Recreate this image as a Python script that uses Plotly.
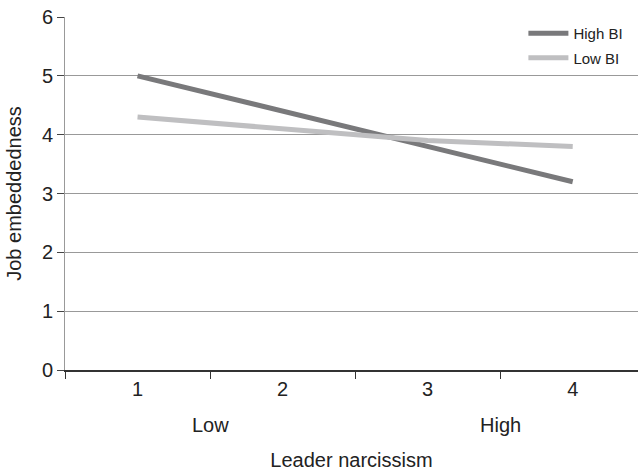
import plotly.graph_objects as go

categories = ["1", "2", "3", "4"]
high_bi = [5.0, 4.4, 3.8, 3.2]
low_bi = [4.3, 4.1, 3.9, 3.8]
y_ticks = [0, 1, 2, 3, 4, 5, 6]
level_labels = ["Low", "High"]
level_positions = [0.5, 2.5]   # category index: between 1&2 and between 3&4

FONT = "Liberation Sans, Arial, Helvetica, sans-serif"
FS = 20

fig = go.Figure()
fig.add_trace(go.Scatter(x=categories, y=high_bi, mode="lines", name="High BI",
                         legendgroup="a",
                         line=dict(color="#79797b", width=5)))
fig.add_trace(go.Scatter(x=categories, y=low_bi, mode="lines", name="Low BI",
                         legendgroup="b",
                         line=dict(color="#bfbfc1", width=5)))

for lab, pos in zip(level_labels, level_positions):
    fig.add_annotation(x=pos, y=0, xref="x", yref="paper", text=lab, showarrow=False,
                       yanchor="middle", yshift=-55,
                       font=dict(family=FONT, size=FS, color="#222"))

fig.update_layout(
    width=638, height=471,
    margin=dict(l=65, r=0, t=17, b=101),
    paper_bgcolor="white", plot_bgcolor="white",
    font=dict(family=FONT, size=FS, color="#222"),
    showlegend=True,
    legend=dict(x=0.8, y=1.0, xanchor="left", yanchor="top",
                traceorder="grouped", tracegroupgap=2,
                font=dict(family=FONT, size=15, color="#222"),
                bgcolor="rgba(0,0,0,0)", itemwidth=40),
    xaxis=dict(type="category", range=[-0.5, 3.45], tickson="boundaries",
               ticks="outside", ticklen=7, tickcolor="#333",
               showline=True, linecolor="#333", linewidth=1.5,
               showgrid=False, zeroline=False, automargin=False,
               tickfont=dict(size=FS, color="#222"),
               title=dict(text="Leader narcissism", standoff=56,
                          font=dict(size=FS, color="#222"))),
    yaxis=dict(range=[0, 6], tickvals=y_ticks, ticks="outside", ticklen=7,
               tickcolor="#444", showline=True, linecolor="#999", linewidth=1,
               showgrid=True, gridcolor="#999", gridwidth=1, zeroline=False,
               automargin=False,
               tickfont=dict(size=FS, color="#222"),
               title=dict(text="Job embeddedness", standoff=14,
                          font=dict(size=FS, color="#222"))),
)

fig.write_html("out.html", config={"displayModeBar": False},
               post_script="document.body.style.margin='0';document.body.style.overflow='hidden';")
